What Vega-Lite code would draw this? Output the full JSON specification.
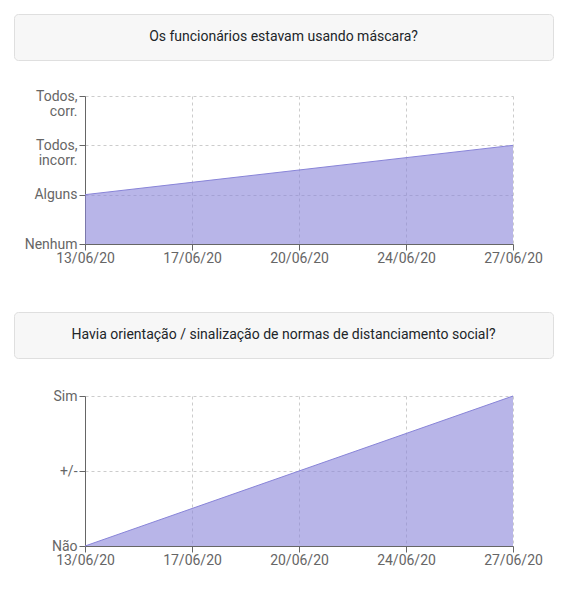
{
  "$schema": "https://vega.github.io/schema/vega-lite/v6.json",
  "padding": {"left": 13, "top": 13, "right": 0, "bottom": 0},
  "background": "#ffffff",
  "datasets": {
    "mascara": [
      {"data": "13/06/20", "nivel": 1},
      {"data": "17/06/20", "nivel": 1.25},
      {"data": "20/06/20", "nivel": 1.5},
      {"data": "24/06/20", "nivel": 1.75},
      {"data": "27/06/20", "nivel": 2}
    ],
    "distanciamento": [
      {"data": "13/06/20", "nivel": 0},
      {"data": "17/06/20", "nivel": 0.5},
      {"data": "20/06/20", "nivel": 1},
      {"data": "24/06/20", "nivel": 1.5},
      {"data": "27/06/20", "nivel": 2}
    ],
    "titulos": [
      {"pergunta": "Os funcionários estavam usando máscara?", "card": 1},
      {"pergunta": "Havia orientação / sinalização de normas de distanciamento social?", "card": 2}
    ]
  },
  "spacing": 46,
  "vconcat": [
    {
      "spacing": 28,
      "vconcat": [
        {
          "width": 539,
          "height": 46,
          "view": {"fill": "#f7f7f7", "stroke": "#dfdfdf", "cornerRadius": 4},
          "data": {"name": "titulos"},
          "transform": [{"filter": "datum.card == 1"}],
          "mark": {"type": "text", "font": "Roboto", "fontSize": 14, "color": "#212529"},
          "encoding": {"text": {"field": "pergunta", "type": "nominal"}}
        },
        {
          "spacing": 0,
          "hconcat": [
            {"width": 1, "height": 1, "data": {"values": []}, "mark": "point"},
            {
              "width": 428,
              "height": 148,
              "data": {"name": "mascara"},
              "mark": {"type": "area", "fill": "#8884d8", "fillOpacity": 0.6, "line": {"color": "#8884d8", "strokeWidth": 1}},
              "encoding": {
                "x": {
                  "field": "data", "type": "ordinal", "sort": null,
                  "scale": {"type": "point", "padding": 0},
                  "axis": {"title": null, "labelAngle": 0}
                },
                "y": {
                  "field": "nivel", "type": "quantitative",
                  "scale": {"domain": [0, 3], "nice": false, "zero": true},
                  "axis": {
                    "title": null,
                    "values": [0, 1, 2, 3],
                    "labelExpr": "datum.value == 0 ? 'Nenhum' : datum.value == 1 ? 'Alguns' : datum.value == 2 ? ['Todos,', 'incorr.'] : ['Todos,', 'corr.']"
                  }
                }
              }
            }
          ]
        }
      ]
    },
    {
      "spacing": 30,
      "vconcat": [
        {
          "width": 539,
          "height": 46,
          "view": {"fill": "#f7f7f7", "stroke": "#dfdfdf", "cornerRadius": 4},
          "data": {"name": "titulos"},
          "transform": [{"filter": "datum.card == 2"}],
          "mark": {"type": "text", "font": "Roboto", "fontSize": 14, "color": "#212529"},
          "encoding": {"text": {"field": "pergunta", "type": "nominal"}}
        },
        {
          "spacing": 0,
          "hconcat": [
            {"width": 1, "height": 1, "data": {"values": []}, "mark": "point"},
            {
              "width": 428,
              "height": 150,
              "data": {"name": "distanciamento"},
              "mark": {"type": "area", "fill": "#8884d8", "fillOpacity": 0.6, "line": {"color": "#8884d8", "strokeWidth": 1}},
              "encoding": {
                "x": {
                  "field": "data", "type": "ordinal", "sort": null,
                  "scale": {"type": "point", "padding": 0},
                  "axis": {"title": null, "labelAngle": 0}
                },
                "y": {
                  "field": "nivel", "type": "quantitative",
                  "scale": {"domain": [0, 2], "nice": false, "zero": true},
                  "axis": {
                    "title": null,
                    "values": [0, 1, 2],
                    "labelExpr": "datum.value == 0 ? 'Não' : datum.value == 1 ? '+/-' : 'Sim'"
                  }
                }
              }
            }
          ]
        }
      ]
    }
  ],
  "config": {
    "view": {"stroke": null},
    "font": "Roboto",
    "axis": {
      "labelFont": "Roboto",
      "labelFontSize": 14,
      "labelColor": "#666666",
      "domainColor": "#666666",
      "tickColor": "#666666",
      "tickSize": 6,
      "gridColor": "#cccccc",
      "gridDash": [3, 3],
      "grid": true
    },
    "axisX": {"labelPadding": 1, "labelBaseline": "top", "labelFlush": false},
    "axisY": {"labelPadding": 2, "labelBaseline": "middle", "labelLineHeight": 15, "minExtent": 70, "maxExtent": 70}
  }
}
